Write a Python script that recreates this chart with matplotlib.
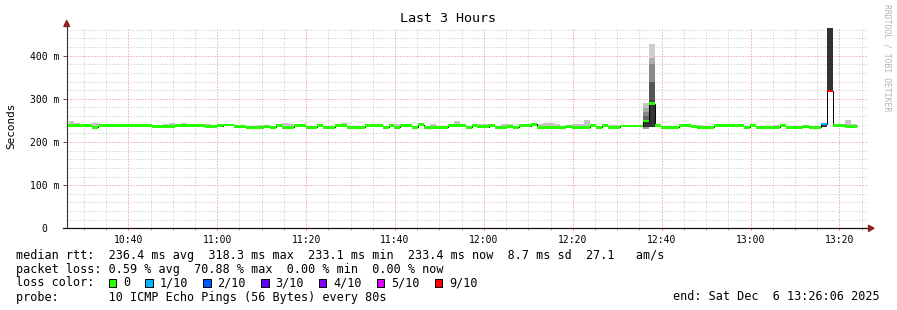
import matplotlib
matplotlib.use("Agg")
import matplotlib.pyplot as plt
from matplotlib.patches import Rectangle, Polygon
from matplotlib.ticker import FixedLocator, MultipleLocator

W, H, DPI = 897, 310, 100
MONO = "DejaVu Sans Mono"

# ---------------- data ----------------
title = "Last 3 Hours"
y_label = "Seconds"
x_start, x_end = 26.1, 206.1          # minutes after 10:00 (10:26:06 .. 13:26:06)
first_step_start = 25.23              # minutes after 10:00
step_minutes = 80 / 60                # probe every 80 s

median = [
    238.2, 238.2, 238.0, 238.0, 238.0, 234.5, 238.0, 238.0, 238.0, 238.0,
    238.0, 238.0, 238.0, 238.0, 238.0, 236.0, 236.0, 236.0, 236.0, 238.0,
    238.0, 238.0, 238.0, 238.0, 236.0, 236.0, 238.0, 239.5, 239.5, 236.5,
    236.5, 234.0, 234.0, 234.0, 236.0, 234.0, 237.5, 234.5, 234.5, 237.5,
    237.5, 234.5, 234.5, 237.5, 234.5, 234.5, 237.5, 237.5, 234.5, 234.5,
    234.5, 237.5, 237.5, 237.5, 234.5, 237.5, 234.5, 237.5, 237.5, 234.5,
    240.0, 234.5, 234.5, 234.5, 234.5, 237.5, 237.5, 237.5, 234.5, 237.5,
    235.5, 235.5, 237.5, 234.5, 234.5, 236.0, 234.5, 237.5, 237.5, 241.0,
    234.5, 234.5, 234.5, 234.5, 234.5, 236.0, 234.5, 234.5, 234.5, 237.5,
    234.5, 237.5, 234.5, 234.5, 237.0, 237.0, 237.0, 237.0, 248.5, 288.5,
    237.5, 234.5, 234.5, 234.5, 237.5, 237.5, 236.0, 234.5, 234.5, 234.5,
    237.5, 237.5, 237.5, 237.5, 237.5, 234.5, 237.5, 234.5, 234.5, 234.5,
    234.5, 237.5, 234.5, 234.5, 234.5, 236.0, 234.5, 234.5, 241.7, 318.3,
    237.5, 237.5, 236.0, 236.0,
]
loss = [0] * 128 + [1, 9] + [0] * 4   # lost pings out of 10 per step

# top of the light smoke where it shows above the median line
smoke_top = {
    1: 248.5, 2: 243.0, 4: 241.0, 5: 243.0, 17: 241.5, 18: 244.0, 20: 243.0,
    24: 241.0, 28: 241.0, 29: 239.5, 30: 239.5, 33: 239.0, 34: 240.0,
    37: 243.0, 38: 241.0, 39: 241.0, 43: 242.0, 47: 245.0, 56: 242.0,
    57: 241.0, 58: 240.0, 62: 241.0, 65: 242.0, 66: 249.0, 70: 242.0,
    71: 242.0, 74: 241.0, 75: 241.0, 80: 241.0, 81: 244.0, 82: 244.0,
    83: 241.0, 86: 241.0, 87: 241.0, 88: 251.0, 92: 240.0, 93: 239.5,
    94: 240.0, 95: 240.0, 96: 240.0, 97: 240.0, 106: 240.0, 107: 240.0,
    112: 241.0, 113: 241.0, 120: 238.5, 125: 238.5, 131: 241.0, 132: 251.0,
    133: 241.0,
}
# layered smoke of the spikes: band edges (ms) and band grey
spike_bounds = {
    98: [231.0, 235.5, 246.0, 251.0, 260.0, 270.0, 278.0, 291.0],
    99: [234.0, 286.0, 291.0, 297.5, 340.0, 380.0, 394.0, 427.0],
    128: [234.0, 241.7],
    129: [318.3, 480.0],
}
spike_shade = {
    98: ["#9a9a9a", "#333333", "#333333", "#666666", "#888888", "#aaaaaa", "#c6c6c6"],
    99: ["#333333", "#333333", "#444444", "#555555", "#8a8a8a", "#adadad", "#cdcdcd"],
    128: ["#333333"],
    129: ["#333333"],
}

tick_minutes = [40, 60, 80, 100, 120, 140, 160, 180, 200]
tick_labels = ["10:40", "11:00", "11:20", "11:40", "12:00", "12:20", "12:40", "13:00", "13:20"]
ytick_values = [0, 100, 200, 300, 400]
ytick_labels = ["0  ", "100 m", "200 m", "300 m", "400 m"]

loss_levels = [0, 1, 2, 3, 4, 5, 9]
loss_labels = ["0", "1/10", "2/10", "3/10", "4/10", "5/10", "9/10"]
loss_colors = ["#26ff00", "#00b8ff", "#0059ff", "#5e00ff", "#7e00ff", "#dd00ff", "#ff0000"]

rtt_stats = ["236.4 ms avg", "318.3 ms max", "233.1 ms min", "233.4 ms now", "8.7 ms sd", "27.1   am/s"]
loss_stats = ["0.59 % avg", "70.88 % max", "0.00 % min", "0.00 % now"]
probe_text = "10 ICMP Echo Pings (56 Bytes) every 80s"
end_text = "end: Sat Dec  6 13:26:06 2025"
watermark = "RRDTOOL / TOBI OETIKER"

# ---------------- figure ----------------
fig = plt.figure(figsize=(W / DPI, H / DPI), dpi=DPI)
fig.patch.set_facecolor("white")

def fx(px):
    return px / W

def fy(py):
    return 1 - py / H

PX_PER_MS = 0.4315
ax = fig.add_axes([fx(66.5), fy(228.3), 800 / W, 200 / H])
ax.set_xlim(x_start, x_end)
ax.set_ylim(0, 200 / PX_PER_MS)
for s in ax.spines.values():
    s.set_visible(False)

# grid
ax.xaxis.set_major_locator(FixedLocator(tick_minutes))
ax.xaxis.set_minor_locator(MultipleLocator(5))
ax.yaxis.set_major_locator(FixedLocator(ytick_values))
ax.yaxis.set_minor_locator(MultipleLocator(20))
ax.set_axisbelow(True)
ax.grid(which="minor", color="#c4c4c4", lw=0.72, ls=(0, (1, 2)), zorder=0)
ax.grid(which="major", color="#f08080", lw=0.72, ls=(0, (1, 2)), zorder=0.5)

ax.set_xticks(tick_minutes, tick_labels)
ax.set_yticks(ytick_values, ytick_labels)
for lab in ax.get_xticklabels() + ax.get_yticklabels():
    lab.set_fontfamily(MONO)
    lab.set_fontsize(7.05)
ax.tick_params(axis="x", which="major", direction="out", length=1.6, width=0.7,
               color="#ff7070", pad=3.4)
ax.tick_params(axis="x", which="minor", direction="out", length=1.6, width=0.7,
               color="#b0b0b0")
ax.tick_params(axis="y", which="major", direction="out", length=2.9, width=0.7,
               color="#555555", pad=1.9)
ax.tick_params(axis="y", which="minor", length=0)

# time edges of the steps
n = len(median)
left = [first_step_start + i * step_minutes for i in range(n)]
edges = left + [first_step_start + n * step_minutes]

# light smoke
sm_i = [i for i in smoke_top if i not in spike_bounds]
ax.bar([left[i] for i in sm_i], [smoke_top[i] - (median[i] - 1) for i in sm_i],
       bottom=[median[i] - 1 for i in sm_i], width=step_minutes, align="edge",
       color="#c4c4c4", linewidth=0, zorder=2)

# spike smoke bands
for i, b in spike_bounds.items():
    for k in range(len(b) - 1):
        ax.bar(left[i], b[k + 1] - b[k], bottom=b[k], width=step_minutes,
               align="edge", color=spike_shade[i][k], linewidth=0, zorder=2)

# thin black median line
ax.stairs(median, edges, baseline=None, color="black", lw=0.7, zorder=3)

# coloured median band (colour = loss)
color_of = dict(zip(loss_levels, loss_colors))
band = 2.8 / PX_PER_MS
ax.bar(left, [band] * n, bottom=[m - band / 2 for m in median], width=step_minutes,
       align="edge", color=[color_of[l] for l in loss], linewidth=0, zorder=4)

# axis lines and arrows
ax.plot([0, 0], [0, 1 + 5 / 200], transform=ax.transAxes, color="#333333",
        lw=0.8, clip_on=False, zorder=5)
ax.plot([-4 / 800, 1 + 3 / 800], [0, 0], transform=ax.transAxes, color="#111111",
        lw=0.9, clip_on=False, zorder=5)
arrow_col = "#902020"
fig.add_artist(Polygon([(fx(63.8), fy(26.5)), (fx(69.6), fy(26.5)), (fx(66.7), fy(20.5))],
                       closed=True, transform=fig.transFigure, color=arrow_col))
fig.add_artist(Polygon([(fx(868.5), fy(225.2)), (fx(868.5), fy(231.4)), (fx(874.0), fy(228.3))],
                       closed=True, transform=fig.transFigure, color=arrow_col))

# titles
fig.text(fx(448), fy(19), title, ha="center", va="center", fontfamily=MONO, fontsize=9.6)
fig.text(fx(11), fy(126), y_label, ha="center", va="center", rotation=90,
         fontfamily=MONO, fontsize=7.9)
fig.text(fx(886.5), fy(4.5), watermark, ha="center", va="top", rotation=270,
         fontfamily=MONO, fontsize=5.9, color="#b4b4b4")

# legend / statistics
FS = 8.5
CW = 7.1
row_base = [258.5, 272.5, 286.5, 300.5]
fig.text(fx(16), fy(row_base[0]), "median rtt:  " + "  ".join(rtt_stats),
         va="baseline", fontfamily=MONO, fontsize=FS)
fig.text(fx(16), fy(row_base[1]), "packet loss: " + "  ".join(loss_stats),
         va="baseline", fontfamily=MONO, fontsize=FS)
fig.text(fx(16), fy(row_base[2]), "loss color:", va="baseline", fontfamily=MONO, fontsize=FS)
fig.text(fx(16), fy(row_base[3]), "probe:       " + probe_text, va="baseline",
         fontfamily=MONO, fontsize=FS)
fig.text(fx(880), fy(row_base[3]), end_text, ha="right", va="baseline",
         fontfamily=MONO, fontsize=FS)

bx = 108.7
for lab, col in zip(loss_labels, loss_colors):
    fig.add_artist(Rectangle((fx(bx), fy(286.5)), 7.4 / W, 8.0 / H,
                             transform=fig.transFigure, facecolor=col,
                             edgecolor="black", lw=0.7))
    tx = bx + 14.3
    fig.text(fx(tx), fy(row_base[2]), lab, va="baseline", fontfamily=MONO, fontsize=FS)
    bx = tx + len(lab) * CW + 15.2

fig.savefig("out.png", dpi=DPI, facecolor="white")
